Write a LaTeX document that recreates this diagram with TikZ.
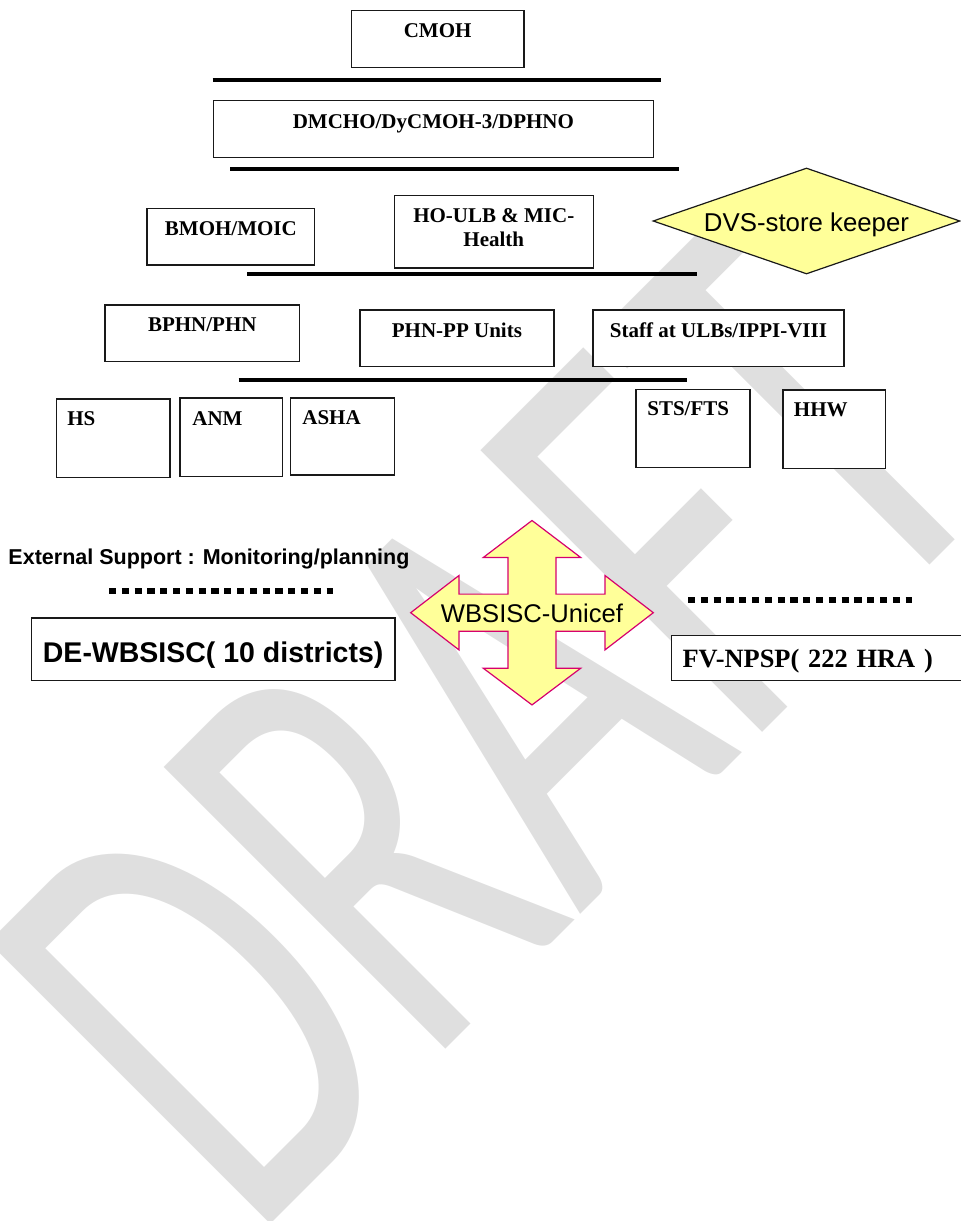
\documentclass[tikz,border=0pt]{standalone}
\usepackage{fontspec}
\setmainfont{Liberation Serif}
\newfontfamily\sansfam{Liberation Sans}
\newfontfamily\wmfam{Carlito}
\usetikzlibrary{shapes.geometric}

\definecolor{wmgray}{RGB}{223,223,223}
\definecolor{paleyellow}{RGB}{255,255,153}
\definecolor{arrowedge}{RGB}{214,0,110}
\definecolor{boxline}{RGB}{25,25,25}

\begin{document}
\begin{tikzpicture}[x=1pt,y=-1pt,
  orgbox/.style={draw=boxline, line width=1.3pt, fill=white, rectangle,
    inner sep=0pt, anchor=north west, font=\fontsize{21}{24}\selectfont\bfseries},
  leftbox/.style={orgbox, align=left},
  sepline/.style={line width=4.3pt, black},
  dotrule/.style={line width=5.9pt, black, dash pattern=on 7.2pt off 5.6pt},
  quadarrow/.style={fill=paleyellow, draw=arrowedge, line width=1.2pt, line join=miter},
  wmark/.style={anchor=base west, inner sep=0pt, rotate=45, xscale=0.645,
    text=wmgray, font=\wmfam\fontsize{621}{700}\selectfont}
]
\useasboundingbox (0,0) rectangle (961,1221);
\clip (0,0) rectangle (961,1221);

% background watermark
\node[wmark] (draft) at (251.7,1243.3) {DRAFT};

% management levels
\node[orgbox, minimum width=172.5pt, text height=26.5pt, text depth=30.2pt] (cmoh) at (350.7,10) {CMOH};
\draw[sepline] (212.5,80.3) -- (661.4,80.3);

\node[orgbox, minimum width=440.5pt, text height=28pt, text depth=28.7pt] (dmcho) at (212.5,100) {DMCHO/DyCMOH-3/DPHNO};
\draw[sepline] (230,168.7) -- (678.6,168.7);

\node[orgbox, minimum width=167.6pt, text height=27.3pt, text depth=29.3pt] (bmoh) at (146.4,207.7) {BMOH/MOIC};
\node[orgbox, minimum width=199.1pt, text height=26.7pt, text depth=45.6pt] (houlb) at (393.6,195)
  {\begin{tabular}[t]{@{}c@{}}HO-ULB \& MIC-\\Health\end{tabular}};
\node[diamond, aspect=2.9, draw=boxline, line width=1.2pt, fill=paleyellow,
  minimum width=307pt, minimum height=106pt, inner sep=0pt,
  font=\sansfam\fontsize{25.8}{30}\selectfont, text height=21.4pt, text depth=0pt] (dvs) at (806.5,221) {DVS-store keeper};
\draw[sepline] (247,274) -- (697,274);

\node[orgbox, minimum width=194.7pt, text height=26.4pt, text depth=30.3pt] (bphn) at (104.3,304.3) {BPHN/PHN};
\node[orgbox, minimum width=194pt, text height=27.4pt, text depth=29.3pt] (phnpp) at (359.3,309.3) {PHN-PP Units};
\node[orgbox, minimum width=251pt, text height=27.4pt, text depth=29.3pt] (staff) at (592.3,309.3) {Staff at ULBs/IPPI-VIII};
\draw[sepline] (238.7,380) -- (687.3,380);

% field workers
\node[leftbox, inner xsep=11pt, text width=91.6pt, text height=26.7pt, text depth=51.7pt] (hs) at (55.7,398.3) {HS};
\node[leftbox, inner xsep=12.4pt, text width=77.6pt, text height=27.7pt, text depth=50.7pt] (anm) at (179.3,397.3) {ANM};
\node[leftbox, inner xsep=11.7pt, text width=80.6pt, text height=27pt, text depth=50pt] (asha) at (290,397.3) {ASHA};
\node[leftbox, inner xsep=11.4pt, text width=91.2pt, text height=26.3pt, text depth=52pt] (sts) at (635.3,388.7) {STS/FTS};
\node[leftbox, inner xsep=11pt, text width=80.7pt, text height=26.7pt, text depth=52pt] (hhw) at (782.3,389.3) {HHW};

% external support
\node[anchor=base west, inner sep=0pt, font=\sansfam\bfseries\fontsize{21.5}{25}\selectfont] (ext) at (8.3,564)
  {External Support : Monitoring/planning};
\draw[dotrule] (109,591) -- (333,591);
\draw[dotrule] (688,600) -- (912,600);

\node[orgbox, minimum width=363.6pt, font=\sansfam\bfseries\fontsize{28.5}{32}\selectfont,
  text height=44.4pt, text depth=18.3pt] (dewb) at (30.7,617.3) {DE-WBSISC( 10 districts)};
\node[leftbox, inner xsep=11.4pt, text width=317pt, font=\fontsize{26.4}{30}\selectfont\bfseries,
  text height=32pt, text depth=12.7pt] (fvnpsp) at (670.5,634.8) {FV-NPSP( 222 HRA )};

% four-way arrow
\begin{scope}[shift={(532,612.7)}]
  \draw[quadarrow] (0,-92.2) -- (48.6,-55.3) -- (24,-55.3) -- (24,-18.6) -- (73,-18.6) -- (73,-37.2)
    -- (121.3,0) -- (73,37.2) -- (73,18.6) -- (24,18.6) -- (24,55.6) -- (48.6,55.6)
    -- (0,92.2) -- (-48.6,55.6) -- (-24,55.6) -- (-24,18.6) -- (-73,18.6) -- (-73,37.2)
    -- (-121.3,0) -- (-73,-37.2) -- (-73,-18.6) -- (-24,-18.6) -- (-24,-55.3) -- (-48.6,-55.3) -- cycle;
  \node[inner sep=0pt, font=\sansfam\fontsize{25.6}{30}\selectfont, text height=19.3pt, text depth=0pt] (wbsisc) at (0,0) {WBSISC-Unicef};
\end{scope}
\end{tikzpicture}
\end{document}
